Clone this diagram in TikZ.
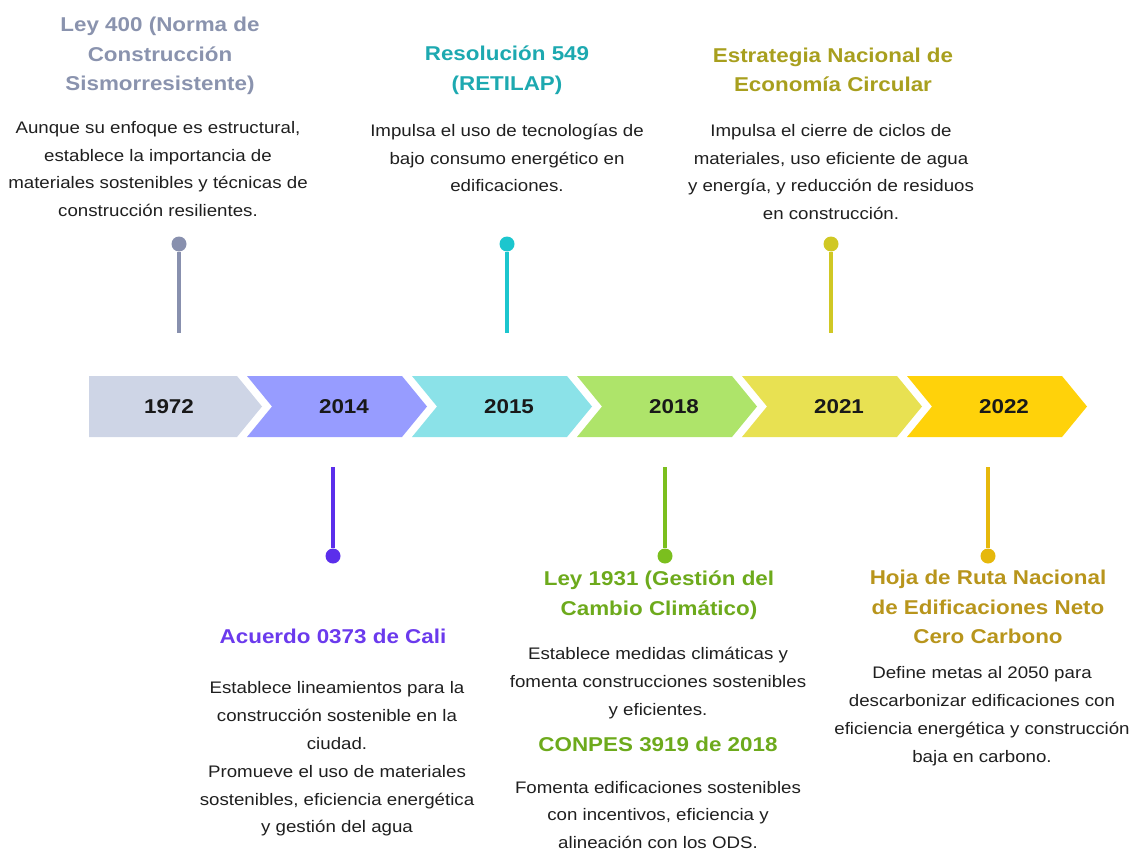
\documentclass[tikz,border=0pt]{standalone}
\usepackage{fontspec}
\setmainfont{Liberation Sans}[FakeStretch=1.12]
\usetikzlibrary{positioning}

\definecolor{fondoA}{HTML}{CED5E6}
\definecolor{fondoB}{HTML}{979CFF}
\definecolor{fondoC}{HTML}{8BE2E8}
\definecolor{fondoD}{HTML}{AEE46A}
\definecolor{fondoE}{HTML}{E8E152}
\definecolor{fondoF}{HTML}{FFD20A}
\definecolor{talloA}{HTML}{8890AE}
\definecolor{talloB}{HTML}{5B2EEB}
\definecolor{talloC}{HTML}{1CC6CE}
\definecolor{talloD}{HTML}{7BBF1E}
\definecolor{talloE}{HTML}{D0C824}
\definecolor{talloF}{HTML}{E6B80C}
\definecolor{tituloA}{HTML}{8A93AE}
\definecolor{tituloB}{HTML}{6B3AED}
\definecolor{tituloC}{HTML}{1DA9B0}
\definecolor{tituloD}{HTML}{6DAA1C}
\definecolor{tituloE}{HTML}{A89F1E}
\definecolor{tituloF}{HTML}{B8951C}

\tikzset{
  anio/.style={font=\fontsize{20}{24}\selectfont\bfseries, text=black!90},
  titulo/.style={align=center, inner sep=0pt, font=\fontsize{20}{29.5}\selectfont\bfseries},
  cuerpo/.style={align=center, inner sep=0pt, text=black!88, font=\fontsize{16.7}{27.8}\selectfont},
  punto/.style={circle, inner sep=0pt, minimum size=15pt},
  tallo/.style={line width=3.5pt},
}

\begin{document}
\begin{tikzpicture}[x=1pt, y=-1pt]
        \useasboundingbox (0,0) rectangle (1131,853);

        % flechas de la linea de tiempo
        \fill[fondoA] (89,376) -- (237,376) -- (262,406.5) -- (237,437) -- (89,437) -- cycle;
        \fill[fondoB] (247,376) -- (402,376) -- (427,406.5) -- (402,437) -- (247,437) -- (272,406.5) -- cycle;
        \fill[fondoC] (412,376) -- (567,376) -- (592,406.5) -- (567,437) -- (412,437) -- (437,406.5) -- cycle;
        \fill[fondoD] (577,376) -- (732,376) -- (757,406.5) -- (732,437) -- (577,437) -- (602,406.5) -- cycle;
        \fill[fondoE] (742,376) -- (897,376) -- (922,406.5) -- (897,437) -- (742,437) -- (767,406.5) -- cycle;
        \fill[fondoF] (907,376) -- (1062,376) -- (1087,406.5) -- (1062,437) -- (907,437) -- (932,406.5) -- cycle;

        \node[anio] (a1972) at (169,406.5) {1972};
        \node[anio] (a2014) at (344,406.5) {2014};
        \node[anio] (a2015) at (509,406.5) {2015};
        \node[anio] (a2018) at (674,406.5) {2018};
        \node[anio] (a2021) at (839,406.5) {2021};
        \node[anio] (a2022) at (1004,406.5) {2022};

        % marcadores
        \node[punto, fill=talloA] (p1972) at (179,244) {};
        \node[punto, fill=talloB] (p2014) at (333,556) {};
        \node[punto, fill=talloC] (p2015) at (507,244) {};
        \node[punto, fill=talloD] (p2018) at (665,556) {};
        \node[punto, fill=talloE] (p2021) at (831,244) {};
        \node[punto, fill=talloF] (p2022) at (988,556) {};

        \coordinate (b1972) at (179,333);
        \coordinate (b2014) at (333,467);
        \coordinate (b2015) at (507,333);
        \coordinate (b2018) at (665,467);
        \coordinate (b2021) at (831,333);
        \coordinate (b2022) at (988,467);

        \draw[tallo, talloA] (p1972) -- (b1972);
        \draw[tallo, talloB] (p2014) -- (b2014);
        \draw[tallo, talloC] (p2015) -- (b2015);
        \draw[tallo, talloD] (p2018) -- (b2018);
        \draw[tallo, talloE] (p2021) -- (b2021);
        \draw[tallo, talloF] (p2022) -- (b2022);

        % textos de arriba
        \node[titulo, text=tituloA] (t1972) at (160,56) {Ley 400 (Norma de\\Construcción\\Sismorresistente)};
        \node[cuerpo] (c1972) at (158,169) {Aunque su enfoque es estructural,\\establece la importancia de\\materiales sostenibles y técnicas de\\construcción resilientes.};

        \node[titulo, text=tituloC] (t2015) at (507,70) {Resolución 549\\(RETILAP)};
        \node[cuerpo] (c2015) at (507,158) {Impulsa el uso de tecnologías de\\bajo consumo energético en\\edificaciones.};

        \node[titulo, text=tituloE] (t2021) at (833,70) {Estrategia Nacional de\\Economía Circular};
        \node[cuerpo] (c2021) at (831,172) {Impulsa el cierre de ciclos de\\materiales, uso eficiente de agua\\y energía, y reducción de residuos\\en construcción.};

        % textos de abajo
        \node[titulo, text=tituloB] (t2014) at (333,636) {Acuerdo 0373 de Cali};
        \node[cuerpo] (c2014) at (337,759) {Establece lineamientos para la\\construcción sostenible en la\\ciudad.\\Promueve el uso de materiales\\sostenibles, eficiencia energética\\y gestión del agua};

        \node[titulo, text=tituloD] (t2018) at (659,595) {Ley 1931 (Gestión del\\Cambio Climático)};
        \node[cuerpo] (c2018) at (658,683) {Establece medidas climáticas y\\fomenta construcciones sostenibles\\y eficientes.};
        \node[titulo, text=tituloD] (k2018) at (658,744) {CONPES 3919 de 2018};
        \node[cuerpo] (d2018) at (658,815) {Fomenta edificaciones sostenibles\\con incentivos, eficiencia y\\alineación con los ODS.};

        \node[titulo, text=tituloF] (t2022) at (988,607) {Hoja de Ruta Nacional\\de Edificaciones Neto\\Cero Carbono};
        \node[cuerpo] (c2022) at (982,716) {Define metas al 2050 para\\descarbonizar edificaciones con\\eficiencia energética y construcción\\baja en carbono.};
\end{tikzpicture}
\end{document}
